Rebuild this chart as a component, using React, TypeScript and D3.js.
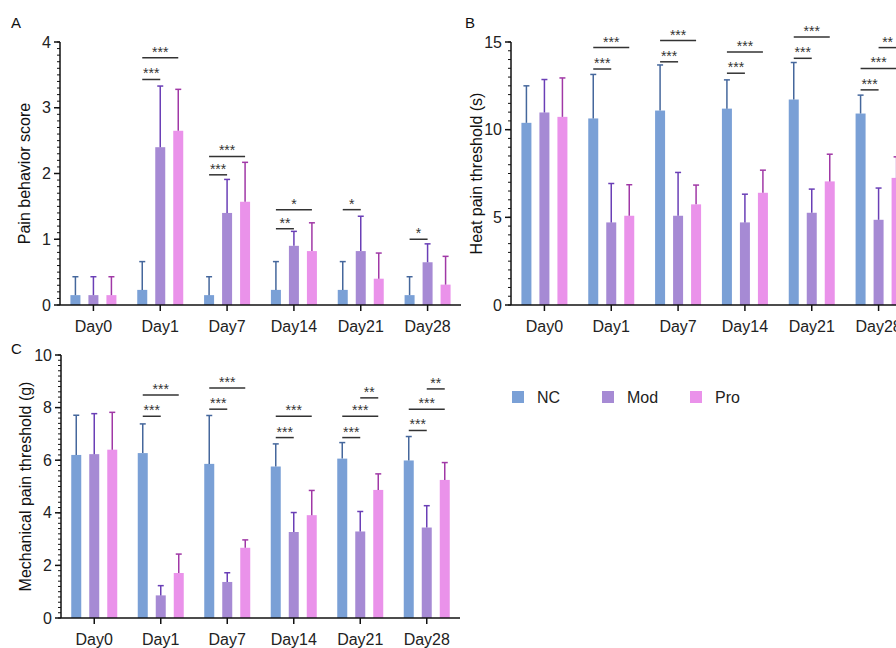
import React from 'react';
import * as d3 from 'd3';

const days = ['Day0', 'Day1', 'Day7', 'Day14', 'Day21', 'Day28'];
const groups = ['NC', 'Mod', 'Pro'];
const barColors = ['#7aa0d6', '#a68ad4', '#ea92ea'];
const errColors = ['#45679c', '#6a3fb6', '#a038a6'];

// A: pain behavior score
const painNC = [0.15, 0.23, 0.15, 0.23, 0.23, 0.15];
const painNCErr = [0.43, 0.66, 0.43, 0.66, 0.66, 0.43];
const painMod = [0.15, 2.4, 1.4, 0.9, 0.82, 0.65];
const painModErr = [0.43, 3.33, 1.91, 1.12, 1.35, 0.93];
const painPro = [0.15, 2.65, 1.57, 0.82, 0.4, 0.31];
const painProErr = [0.43, 3.28, 2.17, 1.25, 0.79, 0.74];
const painSig = [
  { day: 'Day1', from: 0, to: 1, y: 3.43, label: '***' },
  { day: 'Day1', from: 0, to: 2, y: 3.76, label: '***' },
  { day: 'Day7', from: 0, to: 1, y: 1.98, label: '***' },
  { day: 'Day7', from: 0, to: 2, y: 2.26, label: '***' },
  { day: 'Day14', from: 0, to: 1, y: 1.16, label: '**' },
  { day: 'Day14', from: 0, to: 2, y: 1.45, label: '*' },
  { day: 'Day21', from: 0, to: 1, y: 1.45, label: '*' },
  { day: 'Day28', from: 0, to: 1, y: 1.0, label: '*' },
];

// B: heat pain threshold (s)
const heatNC = [10.39, 10.64, 11.09, 11.2, 11.72, 10.92];
const heatNCErr = [12.5, 13.15, 13.69, 12.84, 13.83, 11.97];
const heatMod = [10.98, 4.71, 5.09, 4.71, 5.26, 4.86];
const heatModErr = [12.86, 6.93, 7.56, 6.32, 6.61, 6.67];
const heatPro = [10.73, 5.09, 5.74, 6.4, 7.05, 7.25];
const heatProErr = [12.95, 6.86, 6.84, 7.69, 8.6, 8.45];
const heatSig = [
  { day: 'Day1', from: 0, to: 1, y: 13.46, label: '***' },
  { day: 'Day1', from: 0, to: 2, y: 14.68, label: '***' },
  { day: 'Day7', from: 0, to: 1, y: 13.87, label: '***' },
  { day: 'Day7', from: 0, to: 2, y: 15.08, label: '***' },
  { day: 'Day14', from: 0, to: 1, y: 13.22, label: '***' },
  { day: 'Day14', from: 0, to: 2, y: 14.43, label: '***' },
  { day: 'Day21', from: 0, to: 1, y: 14.07, label: '***' },
  { day: 'Day21', from: 0, to: 2, y: 15.29, label: '***' },
  { day: 'Day28', from: 0, to: 1, y: 12.27, label: '***' },
  { day: 'Day28', from: 0, to: 2, y: 13.49, label: '***' },
  { day: 'Day28', from: 1, to: 2, y: 14.68, label: '**' },
];

// C: mechanical pain threshold (g)
const mechNC = [6.2, 6.27, 5.86, 5.76, 6.06, 5.99];
const mechNCErr = [7.71, 7.38, 7.7, 6.62, 6.67, 6.9];
const mechMod = [6.23, 0.86, 1.37, 3.27, 3.29, 3.44];
const mechModErr = [7.77, 1.23, 1.72, 4.01, 4.05, 4.27];
const mechPro = [6.4, 1.71, 2.67, 3.91, 4.87, 5.25];
const mechProErr = [7.82, 2.43, 2.97, 4.85, 5.48, 5.91];
const mechSig = [
  { day: 'Day1', from: 0, to: 1, y: 7.67, label: '***' },
  { day: 'Day1', from: 0, to: 2, y: 8.48, label: '***' },
  { day: 'Day7', from: 0, to: 1, y: 7.94, label: '***' },
  { day: 'Day7', from: 0, to: 2, y: 8.75, label: '***' },
  { day: 'Day14', from: 0, to: 1, y: 6.86, label: '***' },
  { day: 'Day14', from: 0, to: 2, y: 7.67, label: '***' },
  { day: 'Day21', from: 0, to: 1, y: 6.86, label: '***' },
  { day: 'Day21', from: 0, to: 2, y: 7.67, label: '***' },
  { day: 'Day21', from: 1, to: 2, y: 8.37, label: '**' },
  { day: 'Day28', from: 0, to: 1, y: 7.13, label: '***' },
  { day: 'Day28', from: 0, to: 2, y: 7.94, label: '***' },
  { day: 'Day28', from: 1, to: 2, y: 8.71, label: '**' },
];

const font = '"Liberation Sans", Arial, sans-serif';
const barOffset = [-18, 0, 18];
const barW = 10;

type Sig = { day: string; from: number; to: number; y: number; label: string };

function Panel(props: {
  letter: string;
  letterX: number;
  letterY: number;
  left: number;
  right: number;
  top: number;
  bottom: number;
  max: number;
  major: number;
  minor: number;
  title: string;
  titleX: number;
  means: number[][];
  errs: number[][];
  sig: Sig[];
}) {
  const { left, right, top, bottom, max, major, minor } = props;
  const x = d3.scaleBand().domain(days).range([left, right]).padding(0);
  const y = d3.scaleLinear().domain([0, max]).range([bottom, top]);
  const majorTicks = d3.range(0, max + 1e-9, major);
  const minorTicks = d3.range(0, max + 1e-9, minor);
  const cx = (d: string) => (x(d) as number) + x.bandwidth() / 2;

  return (
    <g>
      <text x={props.letterX} y={props.letterY} fontSize={15} fontFamily={font} fill="#111">
        {props.letter}
      </text>
      <text
        transform={`translate(${props.titleX},${(top + bottom) / 2}) rotate(-90)`}
        textAnchor="middle"
        dominantBaseline="central"
        fontSize={16}
        fontFamily={font}
        fill="#111"
      >
        {props.title}
      </text>

      {/* bars and error bars */}
      {groups.map((g, gi) =>
        days.map((d, di) => {
          const bx = cx(d) + barOffset[gi];
          const m = props.means[gi][di];
          const e = props.errs[gi][di];
          return (
            <g key={g + d}>
              <rect x={bx - barW / 2} y={y(m)} width={barW} height={y(0) - y(m)} fill={barColors[gi]} />
              <line x1={bx} x2={bx} y1={y(m)} y2={y(e)} stroke={errColors[gi]} strokeWidth={1.5} />
              <line x1={bx - 3} x2={bx + 3} y1={y(e)} y2={y(e)} stroke={errColors[gi]} strokeWidth={1.5} />
            </g>
          );
        })
      )}

      {/* significance brackets */}
      {props.sig.map((s, i) => {
        const x1 = cx(s.day) + barOffset[s.from];
        const x2 = cx(s.day) + barOffset[s.to];
        return (
          <g key={i}>
            <line x1={x1} x2={x2} y1={y(s.y)} y2={y(s.y)} stroke="#333" strokeWidth={1.5} />
            <text
              x={(x1 + x2) / 2}
              y={y(s.y) - 1}
              textAnchor="middle"
              fontSize={14}
              fontFamily={font}
              fill="#333"
            >
              {s.label}
            </text>
          </g>
        );
      })}

      {/* y axis */}
      <line x1={left} x2={left} y1={y(0)} y2={y(max)} stroke="#111" strokeWidth={1.5} />
      {minorTicks.map((t) => (
        <line key={'m' + t} x1={left - 3} x2={left} y1={y(t)} y2={y(t)} stroke="#111" strokeWidth={1} />
      ))}
      {majorTicks.map((t) => (
        <g key={'M' + t}>
          <line x1={left - 6} x2={left} y1={y(t)} y2={y(t)} stroke="#111" strokeWidth={1.5} />
          <text
            x={left - 9}
            y={y(t)}
            textAnchor="end"
            dominantBaseline="central"
            fontSize={16}
            fontFamily={font}
            fill="#222"
          >
            {t}
          </text>
        </g>
      ))}

      {/* x axis */}
      <line x1={left} x2={right} y1={y(0)} y2={y(0)} stroke="#111" strokeWidth={1.5} />
      {days.map((d) => (
        <g key={d}>
          <line x1={cx(d)} x2={cx(d)} y1={y(0)} y2={y(0) + 6} stroke="#111" strokeWidth={1.5} />
          <text x={cx(d)} y={y(0) + 27} textAnchor="middle" fontSize={16} fontFamily={font} fill="#222">
            {d}
          </text>
        </g>
      ))}
    </g>
  );
}

const legendX = [512, 602, 690];

export default function App() {
  return (
    <svg
      width={896}
      height={648}
      style={{ position: 'absolute', left: 0, top: 0, background: '#fff', display: 'block' }}
    >
      <Panel
        letter="A"
        letterX={11}
        letterY={28}
        left={60}
        right={461}
        top={42}
        bottom={305}
        max={4}
        major={1}
        minor={0.1}
        title="Pain behavior score"
        titleX={24}
        means={[painNC, painMod, painPro]}
        errs={[painNCErr, painModErr, painProErr]}
        sig={painSig}
      />
      <Panel
        letter="B"
        letterX={465}
        letterY={28}
        left={511}
        right={912}
        top={42}
        bottom={305}
        max={15}
        major={5}
        minor={0.5}
        title="Heat pain threshold (s)"
        titleX={476}
        means={[heatNC, heatMod, heatPro]}
        errs={[heatNCErr, heatModErr, heatProErr]}
        sig={heatSig}
      />
      <Panel
        letter="C"
        letterX={11}
        letterY={354}
        left={61}
        right={460}
        top={355}
        bottom={618}
        max={10}
        major={2}
        minor={0.2}
        title="Mechanical pain threshold (g)"
        titleX={25}
        means={[mechNC, mechMod, mechPro]}
        errs={[mechNCErr, mechModErr, mechProErr]}
        sig={mechSig}
      />
      {groups.map((g, i) => (
        <g key={g}>
          <rect x={legendX[i]} y={391} width={12} height={12} fill={barColors[i]} />
          <text x={legendX[i] + 25} y={403} fontSize={16} fontFamily={font} fill="#222">
            {g}
          </text>
        </g>
      ))}
    </svg>
  );
}
